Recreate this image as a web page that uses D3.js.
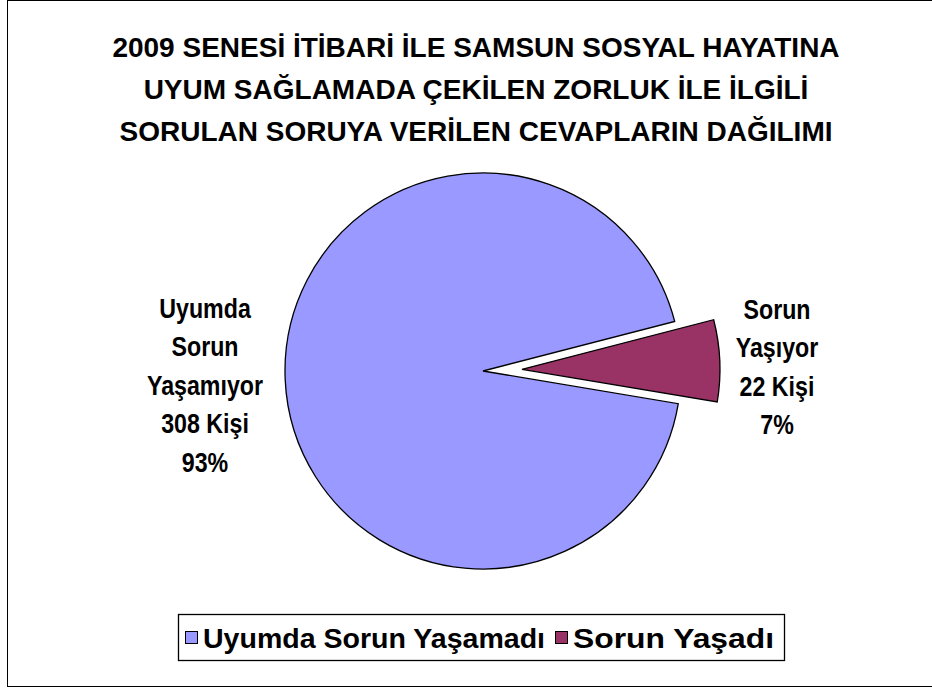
<!DOCTYPE html>
<html><head><meta charset="utf-8">
<script src="https://cdn.jsdelivr.net/npm/d3@7"></script>
<style>
html,body{margin:0;padding:0;background:#fff;}
svg{display:block;}
text{font-family:"Liberation Sans",Arial,sans-serif;font-weight:bold;fill:#000;}
</style></head>
<body>
<script>
const titleLines = ["2009 SENESİ İTİBARİ İLE SAMSUN SOSYAL HAYATINA","UYUM SAĞLAMADA ÇEKİLEN ZORLUK İLE İLGİLİ","SORULAN SORUYA VERİLEN CEVAPLARIN DAĞILIMI"];
const categories = ["Uyumda Sorun Yaşamadı","Sorun Yaşadı"];
const values = [308, 22];
const colors = ["#9999FF","#993366"];
const sliceLabels = [["Uyumda","Sorun","Yaşamıyor","308 Kişi","93%"],["Sorun","Yaşıyor","22 Kişi","7%"]];

const W = 932, H = 690;
const svg = d3.select("body").append("svg").attr("width", W).attr("height", H);

// outer frame
svg.append("rect").attr("x",7.5).attr("y",0.5).attr("width",W+10).attr("height",686)
  .attr("fill","none").attr("stroke","#000").attr("stroke-width",1);

// title
const title = svg.append("text").attr("text-anchor","middle").style("font-size","28px");
titleLines.forEach((t,i)=>{
  title.append("tspan").attr("x",476).attr("y",57 + i*42).text(t);
});

// pie
const cx = 483, cy = 371, r = 198;
const start = 99.5*Math.PI/180;
const pie = d3.pie().sort(null).startAngle(start).endAngle(start + 2*Math.PI);
const arcs = pie(values);
const arc = d3.arc().innerRadius(0).outerRadius(r);
const explode = [0, 39];
const g = svg.append("g").attr("transform",`translate(${cx},${cy})`);
g.selectAll("path").data(arcs).join("path")
  .attr("d", arc)
  .attr("fill",(d,i)=>colors[i])
  .attr("stroke","#000").attr("stroke-width",1.3)
  .attr("transform",(d,i)=>{
    const a = (d.startAngle + d.endAngle)/2;
    return `translate(${Math.sin(a)*explode[i]},${-Math.cos(a)*explode[i]})`;
  });

// slice labels (slightly condensed, as in the reference)
const labelPos = [[205, 318], [777, 319]];
sliceLabels.forEach((lines,i)=>{
  const gg = svg.append("g").attr("transform",`translate(${labelPos[i][0]},0) scale(0.86,1)`);
  const t = gg.append("text").attr("text-anchor","middle").style("font-size","27px");
  lines.forEach((l,j)=>{
    t.append("tspan").attr("x",0).attr("y",labelPos[i][1] + j*38.5).text(l);
  });
});

// legend
const lg = svg.append("g");
lg.append("rect").attr("x",178.5).attr("y",614.5).attr("width",606).attr("height",46)
  .attr("fill","#fff").attr("stroke","#000").attr("stroke-width",1.3);
const items = [{x:185, tx:203, w:342}, {x:555, tx:573, w:201}];
categories.forEach((c,i)=>{
  lg.append("rect").attr("x",items[i].x+0.5).attr("y",631.5).attr("width",12).attr("height",12)
    .attr("fill",colors[i]).attr("stroke","#000").attr("stroke-width",1);
  lg.append("text").attr("x",items[i].tx).attr("y",648).style("font-size","28px")
    .attr("textLength",items[i].w).attr("lengthAdjust","spacingAndGlyphs").text(c);
});
</script>
</body></html>
